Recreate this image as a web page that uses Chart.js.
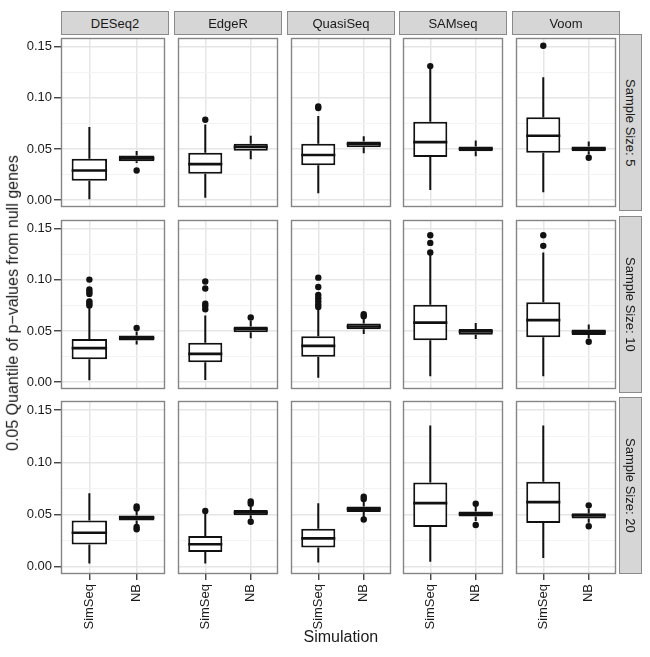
<!DOCTYPE html>
<html>
<head>
<meta charset="utf-8">
<script src="https://cdn.jsdelivr.net/npm/chart.js@4.4.1/dist/chart.umd.min.js"></script>
<style>
  body { margin: 0; background: #fff; }
  #plot { position: relative; width: 650px; height: 657px; background: #fff; font-family: "Liberation Sans", Arial, sans-serif; color: #1a1a1a; }
  .panel { position: absolute; }
  .strip { position: absolute; box-sizing: border-box; background: #d6d6d6; border: 1px solid #8a8a8a; font-size: 13px; display: flex; align-items: center; justify-content: center; }
  .strip.right { writing-mode: vertical-rl; }
  .title { position: absolute; font-size: 16px; white-space: nowrap; }
</style>
</head>
<body>
<div id="plot"></div>
<script>
const methods = ['DESeq2', 'EdgeR', 'QuasiSeq', 'SAMseq', 'Voom'];
const sampleSizes = ['Sample Size: 5', 'Sample Size: 10', 'Sample Size: 20'];
const simulations = ['SimSeq', 'NB'];
const yTicks = [0, 0.05, 0.10, 0.15];

// rows = sample size, then one [SimSeq, NB] pair per method
const whiskerLow = [
    [[0.0006, 0.0363], [0.0022, 0.0398], [0.0066, 0.0457], [0.0097, 0.0429], [0.0075, 0.0445]],
    [[0.0016, 0.0366], [0.0019, 0.0428], [0.0041, 0.0469], [0.0056, 0.0422], [0.0056, 0.0425]],
    [[0.0031, 0.0400], [0.0031, 0.0459], [0.0041, 0.0475], [0.0047, 0.0438], [0.0084, 0.0422]]
];
const boxLow = [
    [[0.0188, 0.0379], [0.0257, 0.0482], [0.0341, 0.0517], [0.0420, 0.0476], [0.0463, 0.0476]],
    [[0.0222, 0.0406], [0.0194, 0.0488], [0.0247, 0.0516], [0.0409, 0.0463], [0.0438, 0.0459]],
    [[0.0213, 0.0444], [0.0141, 0.0494], [0.0184, 0.0525], [0.0381, 0.0481], [0.0419, 0.0463]]
];
const medians = [
    [[0.0288, 0.0407], [0.0351, 0.0520], [0.0441, 0.0548], [0.0567, 0.0501], [0.0629, 0.0501]],
    [[0.0331, 0.0431], [0.0275, 0.0519], [0.0353, 0.0544], [0.0581, 0.0494], [0.0606, 0.0488]],
    [[0.0325, 0.0469], [0.0216, 0.0519], [0.0272, 0.0553], [0.0609, 0.0506], [0.0619, 0.0491]]
];
const boxHigh = [
    [[0.0404, 0.0435], [0.0463, 0.0551], [0.0551, 0.0573], [0.0767, 0.0523], [0.0811, 0.0523]],
    [[0.0422, 0.0456], [0.0384, 0.0544], [0.0447, 0.0572], [0.0756, 0.0519], [0.0781, 0.0513]],
    [[0.0444, 0.0491], [0.0294, 0.0544], [0.0363, 0.0578], [0.0806, 0.0528], [0.0813, 0.0513]]
];
const whiskerHigh = [
    [[0.0714, 0.0479], [0.0740, 0.0629], [0.0823, 0.0623], [0.1287, 0.0582], [0.1202, 0.0573]],
    [[0.0728, 0.0494], [0.0650, 0.0600], [0.0728, 0.0619], [0.1244, 0.0578], [0.1269, 0.0563]],
    [[0.0703, 0.0538], [0.0506, 0.0578], [0.0609, 0.0631], [0.1353, 0.0578], [0.1353, 0.0559]]
];
const outliers = [
    [[[], [0.0288]],
     [[0.0786], []],
     [[0.0900, 0.0917], []],
     [[0.1312], []],
     [[0.1512], [0.0413]]],
    [[[0.1003, 0.0906, 0.0881, 0.0863, 0.0790, 0.0769, 0.0750], [0.0528]],
     [[0.0984, 0.0916, 0.0766, 0.0744, 0.0713], [0.0631]],
     [[0.1022, 0.0931, 0.0853, 0.0820, 0.0790, 0.0760, 0.0734], [0.0644, 0.0663]],
     [[0.1438, 0.1363, 0.1269], []],
     [[0.1438, 0.1334], [0.0394]]],
    [[[], [0.0578, 0.0559, 0.0381, 0.0359]],
     [[0.0534], [0.0625, 0.0603, 0.0431]],
     [[], [0.0672, 0.0650, 0.0453]],
     [[], [0.0603, 0.0400]],
     [[], [0.0588, 0.0388]]]
];

const panelLeft = [61, 174, 287, 399, 512];
const panelTop = [34, 216, 397];
const panelW = 108, panelH = 177;
const xAxisH = 62;

Chart.defaults.font.family = '"Liberation Sans", Arial, sans-serif';
Chart.defaults.color = '#1a1a1a';

// shared y range: data range expanded by 5% like ggplot
const allVals = whiskerLow.flat(2).concat(whiskerHigh.flat(2), outliers.flat(3));
const lo = Math.min(...allVals), hi = Math.max(...allVals);
const yMin = lo - (hi - lo) * 0.05, yMax = hi + (hi - lo) * 0.05;

// major gridlines plus minor ones halfway between
const gridVals = [];
yTicks.forEach((v, i) => {
    gridVals.push(v);
    if (i < yTicks.length - 1) gridVals.push((v + yTicks[i + 1]) / 2);
});
const isMajor = v => yTicks.some(t => Math.abs(t - v) < 1e-9);

const boxPlugin = {
    id: 'boxWhiskers',
    afterDatasetsDraw(chart) {
        const { ctx, scales: { y } } = chart;
        const p = chart.options.plugins.boxWhiskers;
        const meta = chart.getDatasetMeta(0);
        ctx.save();
        ctx.strokeStyle = '#111';
        meta.data.forEach((bar, i) => {
            const half = bar.width / 2;
            ctx.lineWidth = 2;
            ctx.beginPath();
            ctx.moveTo(bar.x, y.getPixelForValue(p.wh[i]));
            ctx.lineTo(bar.x, y.getPixelForValue(p.q3[i]));
            ctx.moveTo(bar.x, y.getPixelForValue(p.q1[i]));
            ctx.lineTo(bar.x, y.getPixelForValue(p.wl[i]));
            ctx.stroke();
            ctx.lineWidth = 2.6;
            ctx.beginPath();
            const m = y.getPixelForValue(p.med[i]);
            ctx.moveTo(bar.x - half, m);
            ctx.lineTo(bar.x + half, m);
            ctx.stroke();
        });
        ctx.restore();
    },
    afterDraw(chart) {
        const a = chart.chartArea;
        const ctx = chart.ctx;
        ctx.save();
        ctx.strokeStyle = '#858585';
        ctx.lineWidth = 1.4;
        ctx.strokeRect(a.left + 0.5, a.top + 0.5, a.right - a.left - 1, a.bottom - a.top - 1);
        ctx.restore();
    }
};

const plot = document.getElementById('plot');

function makePanel(r, c) {
    const axisW = c === 0 ? panelLeft[0] : 0;
    const axisH = r === sampleSizes.length - 1 ? xAxisH : 0;
    const w = panelW + axisW, h = panelH + axisH;
    const box = document.createElement('div');
    box.className = 'panel';
    box.style.left = (panelLeft[c] - axisW) + 'px';
    box.style.top = panelTop[r] + 'px';
    const canvas = document.createElement('canvas');
    canvas.width = w; canvas.height = h;
    canvas.style.width = w + 'px'; canvas.style.height = h + 'px';
    box.appendChild(canvas);
    plot.appendChild(box);

    const q1 = boxLow[r][c], q3 = boxHigh[r][c];
    const pts = [];
    outliers[r][c].forEach((list, s) => list.forEach(v => pts.push({ x: s + 1, y: v })));

    new Chart(canvas, {
        type: 'bar',
        data: {
            datasets: [{
                data: simulations.map((s, i) => ({ x: i + 1, y: [q1[i], q3[i]] })),
                backgroundColor: '#fff',
                borderColor: '#111',
                borderWidth: 2,
                borderSkipped: false,
                barPercentage: 0.75,
                categoryPercentage: 1
            }, {
                type: 'scatter',
                data: pts,
                pointRadius: 3.2,
                pointBackgroundColor: '#111',
                pointBorderWidth: 0
            }]
        },
        options: {
            responsive: false,
            animation: false,
            events: [],
            devicePixelRatio: 1,
            layout: { padding: 0 },
            plugins: {
                legend: { display: false },
                tooltip: { enabled: false },
                boxWhiskers: { wl: whiskerLow[r][c], q1: q1, med: medians[r][c], q3: q3, wh: whiskerHigh[r][c] }
            },
            scales: {
                x: {
                    type: 'linear',
                    min: 0.4,
                    max: 2.6,
                    offset: false,
                    afterBuildTicks: s => { s.ticks = simulations.map((n, i) => ({ value: i + 1 })); },
                    afterFit: s => { s.height = axisH; s.paddingLeft = 0; s.paddingRight = 0; },
                    border: { display: false },
                    grid: {
                        offset: false,
                        color: '#e6e6e6',
                        lineWidth: 1.5,
                        drawTicks: axisH > 0,
                        tickLength: 6,
                        tickColor: '#333',
                        tickWidth: 1.3
                    },
                    ticks: {
                        display: axisH > 0,
                        autoSkip: false,
                        minRotation: 90,
                        maxRotation: 90,
                        padding: 4,
                        font: { size: 13 },
                        callback: v => simulations[v - 1]
                    }
                },
                y: {
                    min: yMin,
                    max: yMax,
                    afterBuildTicks: s => { s.ticks = gridVals.map(v => ({ value: v })); },
                    afterFit: s => { s.width = axisW; s.paddingTop = 0; s.paddingBottom = 0; },
                    border: { display: false },
                    grid: {
                        color: ctx => isMajor(ctx.tick.value) ? '#e6e6e6' : '#f3f3f3',
                        lineWidth: ctx => isMajor(ctx.tick.value) ? 1.5 : 1,
                        drawTicks: axisW > 0,
                        tickLength: 7,
                        tickColor: ctx => isMajor(ctx.tick.value) ? '#333' : 'rgba(0,0,0,0)',
                        tickWidth: 1.3
                    },
                    ticks: {
                        display: axisW > 0,
                        autoSkip: false,
                        padding: 2,
                        font: { size: 13 },
                        callback: v => isMajor(v) ? v.toFixed(2) : ''
                    }
                }
            }
        },
        plugins: [boxPlugin]
    });
}

sampleSizes.forEach((size, r) => methods.forEach((m, c) => makePanel(r, c)));

// facet strips
methods.forEach((m, c) => {
    const d = document.createElement('div');
    d.className = 'strip';
    d.textContent = m;
    Object.assign(d.style, { left: panelLeft[c] + 'px', top: '11px', width: panelW + 'px', height: '24px' });
    plot.appendChild(d);
});
sampleSizes.forEach((s, r) => {
    const d = document.createElement('div');
    d.className = 'strip right';
    d.textContent = s;
    Object.assign(d.style, { left: (panelLeft[4] + panelW - 1) + 'px', top: panelTop[r] + 'px', width: '23px', height: panelH + 'px' });
    plot.appendChild(d);
});

// axis titles
const yTitle = document.createElement('div');
yTitle.className = 'title';
yTitle.textContent = '0.05 Quantile of p\u2212values from null genes';
plot.appendChild(yTitle);
const tw = yTitle.offsetWidth, th = yTitle.offsetHeight;
Object.assign(yTitle.style, {
    left: (13 - tw / 2) + 'px',
    top: (303 - th / 2) + 'px',
    transform: 'rotate(-90deg)'
});

const xTitle = document.createElement('div');
xTitle.className = 'title';
xTitle.textContent = 'Simulation';
plot.appendChild(xTitle);
Object.assign(xTitle.style, {
    left: (341 - xTitle.offsetWidth / 2) + 'px',
    top: (637 - xTitle.offsetHeight / 2) + 'px'
});
</script>
</body>
</html>
